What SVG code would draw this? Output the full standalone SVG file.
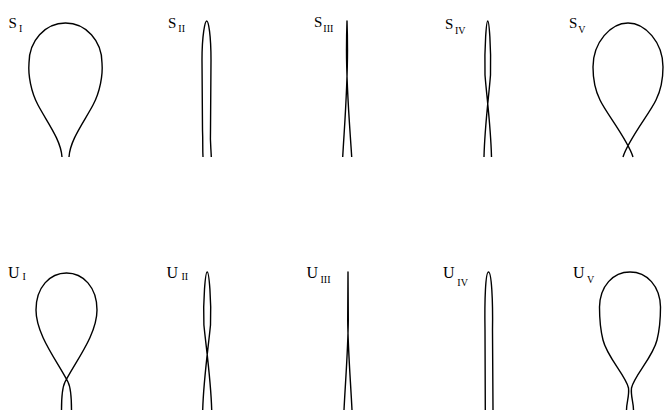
<svg xmlns="http://www.w3.org/2000/svg" width="664" height="413" viewBox="0 0 664 413">
<style>
.c{fill:none;stroke:#000;stroke-width:1.4;stroke-linecap:butt;stroke-linejoin:round}
.l{font-family:"Liberation Serif","Times New Roman",serif;font-size:15px;fill:#000}
.s{font-family:"Liberation Serif","Times New Roman",serif;font-size:10px;fill:#000}
</style>
<rect width="664" height="413" fill="#fff"/>
<g id="S1">
<text class="l" x="8.5" y="28.3">S</text><text class="s" x="19" y="32.3">I</text>
<path class="c" d="M62,157 C61,140 47,122 38,105 C31,92 28,75 29,63 C29,41 45,23 65.5,23 C86,23 102,41 102,63 C103,75 100,92 93,105 C84,122 70,140 69,157"/>
</g>
<g id="S2">
<text class="l" x="168" y="27.5">S</text><text class="s" x="178.3" y="31.8">II</text>
<path class="c" d="M203,157 C202.5,148 203,142 202.5,130 L202,60 C202,35 205,21 206.7,21 C208.5,21 211,35 211,60 L210.5,130 C210,142 211,148 211.3,157"/>
</g>
<g id="S3">
<text class="l" x="314" y="26.5">S</text><text class="s" x="323.3" y="31.8">III</text>
<path class="c" d="M342.7,157 C344.5,125 347.5,90 347.5,50 C347.5,35 347,21 347,21 C347,21 346.5,35 346.5,50 C346.5,90 349.7,125 351.7,157"/>
</g>
<g id="S4">
<text class="l" x="445" y="29">S</text><text class="s" x="455" y="34">IV</text>
<path class="c" d="M484,157 C484.8,125 488.5,100 490.5,75 C491.2,45 489,21 487.75,21 C486.5,21 484.3,45 485,75 C487,100 490.7,125 491.5,157"/>
</g>
<g id="S5">
<text class="l" x="569" y="28.3">S</text><text class="s" x="578.3" y="32.7">V</text>
<path class="c" d="M623,157 C628,140 650,113 656,100 C661,90 663,80 663,67 C663,42 645,23 628,23 C611,23 593,42 593,67 C593,80 595,90 600,100 C606,113 628,140 633,157"/>
</g>
<g id="U1">
<text class="l" x="8" y="277.5" style="font-size:16px">U</text><text class="s" x="22.5" y="279.5">I</text>
<path class="c" d="M61.5,410 C61.5,396 62,388 65,382 C75,362 97,335 97,310 C97,287 83,273 66.5,273 C50,273 36,287 36,310 C36,335 58,362 68,382 C71,388 71.5,396 71.5,410"/>
</g>
<g id="U2">
<text class="l" x="166.5" y="277.8" style="font-size:16px">U</text><text class="s" x="181.5" y="280">II</text>
<path class="c" d="M202.7,410 C203.5,380 208,350 210.5,325 C211.5,300 209,272 207.2,272 C205.4,272 202.9,300 203.9,325 C206.4,350 210.9,380 211.7,410"/>
</g>
<g id="U3">
<text class="l" x="306.5" y="278.3" style="font-size:16px">U</text><text class="s" x="320.5" y="283">III</text>
<path class="c" d="M344,410 C345.5,380 348,350 348.3,320 L348,272 L347.7,320 C348,350 350.5,380 352,410"/>
</g>
<g id="U4">
<text class="l" x="443" y="278.3" style="font-size:16px">U</text><text class="s" x="457.3" y="286">IV</text>
<path class="c" d="M485.3,410 L485,330 C484.5,300 485.5,272 488.5,272 C491.5,272 493,300 492.5,330 L493,410"/>
</g>
<g id="U5">
<text class="l" x="573" y="278.3" style="font-size:16px">U</text><text class="s" x="587" y="283.3">V</text>
<path class="c" d="M626.5,410 C626.5,402 629.5,396 628.5,388 C626,376 607,357 603,340 C600,328 599.5,315 599.5,307 C600,286 613,272 630,272 C647,272 660,286 660.5,307 C660.5,315 660,328 657,340 C653,357 634,376 631.5,388 C630.5,396 633.5,402 633.5,410"/>
</g>
</svg>
